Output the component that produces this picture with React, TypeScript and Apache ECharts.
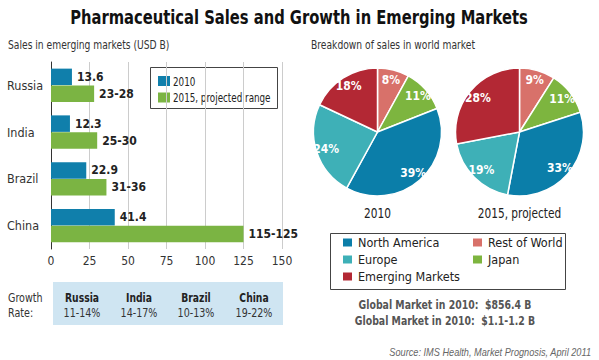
import React, { useEffect, useRef } from "react";
import * as echarts from "echarts";

const countries = ["Russia", "India", "Brazil", "China"];
const sales2010 = [13.6, 12.3, 22.9, 41.4];
const proj2015Low = [23, 25, 31, 115];
const proj2015High = [28, 30, 36, 125];
const xTicks = { min: 0, max: 150, interval: 25 };
const barSeriesNames = ["2010", "2015, projected range"];

const growthCountries = ["Russia", "India", "Brazil", "China"];
const growthRates = ["11-14%", "14-17%", "10-13%", "19-22%"];

const regions = ["Rest of World", "Japan", "North America", "Europe", "Emerging Markets"];
const share2010 = [8, 11, 39, 24, 18];
const share2015 = [9, 11, 33, 19, 28];
const pieTitles = ["2010", "2015, projected"];
const globalLines = ["Global Market in 2010:  $856.4 B", "Global Market in 2010:  $1.1-1.2 B"];

const C = {
  blue: "#107fab",
  green: "#7bb443",
  na: "#0b7ea9",
  eu: "#3eb0b7",
  em: "#b32834",
  row: "#d8716a",
  jp: "#7db53f",
};
const barColors = [C.blue, C.green];
const regionColors: Record<string, string> = {
  "Rest of World": C.row,
  Japan: C.jp,
  "North America": C.na,
  Europe: C.eu,
  "Emerging Markets": C.em,
};

const NARROW = "'DejaVu Sans Condensed', 'Liberation Sans Narrow', sans-serif";

function stext(
  text: string,
  x: number,
  y: number,
  size: number,
  opts: { bold?: boolean; color?: string; align?: string; sx?: number; italic?: boolean; family?: string } = {}
) {
  return {
    type: "text",
    x,
    y,
    scaleX: opts.sx ?? 0.84,
    silent: true,
    style: {
      text,
      fontSize: size,
      fontWeight: opts.bold ? "bold" : "normal",
      fontStyle: opts.italic ? "italic" : "normal",
      fill: opts.color ?? "#333",
      align: opts.align ?? "left",
      verticalAlign: "middle",
      fontFamily: opts.family ?? NARROW,
    },
  };
}

export default function App() {
  const ref = useRef<HTMLDivElement>(null);
  useEffect(() => {
    document.body.style.margin = "0";
    const chart = echarts.init(ref.current!, null, { renderer: "svg" });

    const pieSeries = (data: number[], cx: number, name: string) => {
      const d = regions.map((r, i) => ({ name: r, value: data[i], itemStyle: { color: regionColors[r] } }));
      return [
        {
          type: "pie",
          name,
          center: [cx, 132],
          radius: [0, 64],
          startAngle: 90,
          clockwise: true,
          data: d,
          label: { show: false },
          labelLine: { show: false },
          itemStyle: { borderColor: "#fff", borderWidth: 1.5 },
          silent: true,
        },
        {
          type: "pie",
          name: name + "-labels",
          center: [cx, 132],
          radius: [38, 64],
          startAngle: 90,
          clockwise: true,
          data: d.map((x) => ({ ...x, itemStyle: { color: "rgba(0,0,0,0)" } })),
          label: {
            show: true,
            position: "inside",
            formatter: "{c}%",
            color: "#fff",
            fontWeight: "bold",
            fontSize: 12,
            fontFamily: NARROW,
          },
          labelLine: { show: false },
          silent: true,
        },
      ];
    };

    const colX = [82, 139, 196, 254];
    const pieLegend = (names: string[], left: number) => ({
      data: names,
      orient: "vertical",
      left,
      top: 231,
      itemWidth: 11,
      itemHeight: 10,
      itemGap: 4,
      icon: "rect",
      selectedMode: false,
      textStyle: { fontSize: 12.5, color: "#222", fontFamily: NARROW },
    });

    chart.setOption({
      animation: false,
      legend: [
        pieLegend(["North America", "Europe", "Emerging Markets"], 336),
        pieLegend(["Rest of World", "Japan"], 466),
      ],
      grid: { left: 51, right: 317, top: 62, bottom: 111, outerBoundsMode: "none", containLabel: false },
      xAxis: {
        type: "value",
        min: xTicks.min,
        max: xTicks.max,
        interval: xTicks.interval,
        axisLine: { show: false },
        axisTick: { show: false },
        splitLine: { lineStyle: { color: "#cccccc", width: 1 } },
        axisLabel: { fontSize: 12, color: "#333", fontFamily: NARROW, margin: 6 },
      },
      yAxis: {
        type: "category",
        data: countries,
        inverse: true,
        axisLine: { lineStyle: { color: "#333", width: 1 } },
        axisTick: { show: false },
        axisLabel: { fontSize: 12.5, color: "#333", fontFamily: NARROW, margin: 44, align: "left" },
      },
      series: [
        {
          type: "bar",
          name: barSeriesNames[0],
          data: sales2010,
          barWidth: 16.5,
          barGap: "3%",
          itemStyle: { color: barColors[0] },
          label: {
            show: true,
            position: "right",
            distance: 5,
            fontSize: 12,
            fontWeight: "bold",
            color: "#222",
            fontFamily: NARROW,
          },
        },
        {
          type: "bar",
          name: barSeriesNames[1],
          data: proj2015High,
          barWidth: 16.5,
          barGap: "3%",
          itemStyle: { color: barColors[1] },
          label: {
            show: true,
            position: "right",
            distance: 5,
            fontSize: 12,
            fontWeight: "bold",
            color: "#222",
            fontFamily: NARROW,
            formatter: (p: any) => `${proj2015Low[p.dataIndex]}-${proj2015High[p.dataIndex]}`,
          },
        },
        ...pieSeries(share2010, 377.5, "2010 pie"),
        ...pieSeries(share2015, 519.5, "2015 pie"),
      ],
      graphic: [
        stext("Pharmaceutical Sales and Growth in Emerging Markets", 299, 17, 20, { bold: true, color: "#111", align: "center", sx: 0.82 }),
        stext("Sales in emerging markets (USD B)", 8, 45, 12, { sx: 0.85 }),
        stext("Breakdown of sales in world market", 311, 45, 12, { sx: 0.85 }),
        {
          type: "rect",
          shape: { x: 150.5, y: 67.5, width: 127, height: 41 },
          style: { fill: "#fff", stroke: "#444", lineWidth: 1 },
          silent: true,
        },
        ...barSeriesNames.flatMap((n, i) => [
          {
            type: "rect",
            shape: { x: 158, y: 76 + i * 16.5, width: 12, height: 10 },
            style: { fill: barColors[i] },
            silent: true,
          },
          stext(n, 173, 81 + i * 16.5, 13, { color: "#222", sx: 0.75 }),
        ]),
        {
          type: "rect",
          shape: { x: 53, y: 282, width: 230, height: 43 },
          style: { fill: "#cfe5f2" },
          silent: true,
        },
        stext("Growth", 8, 297.5, 12.5, { sx: 0.85 }),
        stext("Rate:", 8, 312.5, 12.5, { sx: 0.85 }),
        ...growthCountries.flatMap((c, i) => [
          stext(c, colX[i], 297.5, 12.5, { bold: true, color: "#222", align: "center", sx: 0.82 }),
          stext(growthRates[i], colX[i], 312.5, 12.5, { color: "#333", align: "center", sx: 0.85 }),
        ]),
        ...pieTitles.map((t, i) => stext(t, [377.5, 519.5][i], 213, 14, { color: "#222", align: "center", sx: 0.84 })),
        {
          type: "rect",
          shape: { x: 330.5, y: 233.5, width: 235, height: 56 },
          style: { fill: "none", stroke: "#444", lineWidth: 1 },
          silent: true,
        },
        ...globalLines.map((t, i) => stext(t, 445, 305 + i * 16, 13, { bold: true, color: "#555", align: "center", sx: 0.8 })),
        stext("Source: IMS Health, Market Prognosis, April 2011", 591, 352, 10, {
          italic: true,
          color: "#666",
          align: "right",
          sx: 0.92,
          family: "'Liberation Sans', Arial, sans-serif",
        }),
      ],
    });
    return () => chart.dispose();
  }, []);
  return <div ref={ref} style={{ width: 599, height: 360, position: "absolute", left: 0, top: 0 }} />;
}
